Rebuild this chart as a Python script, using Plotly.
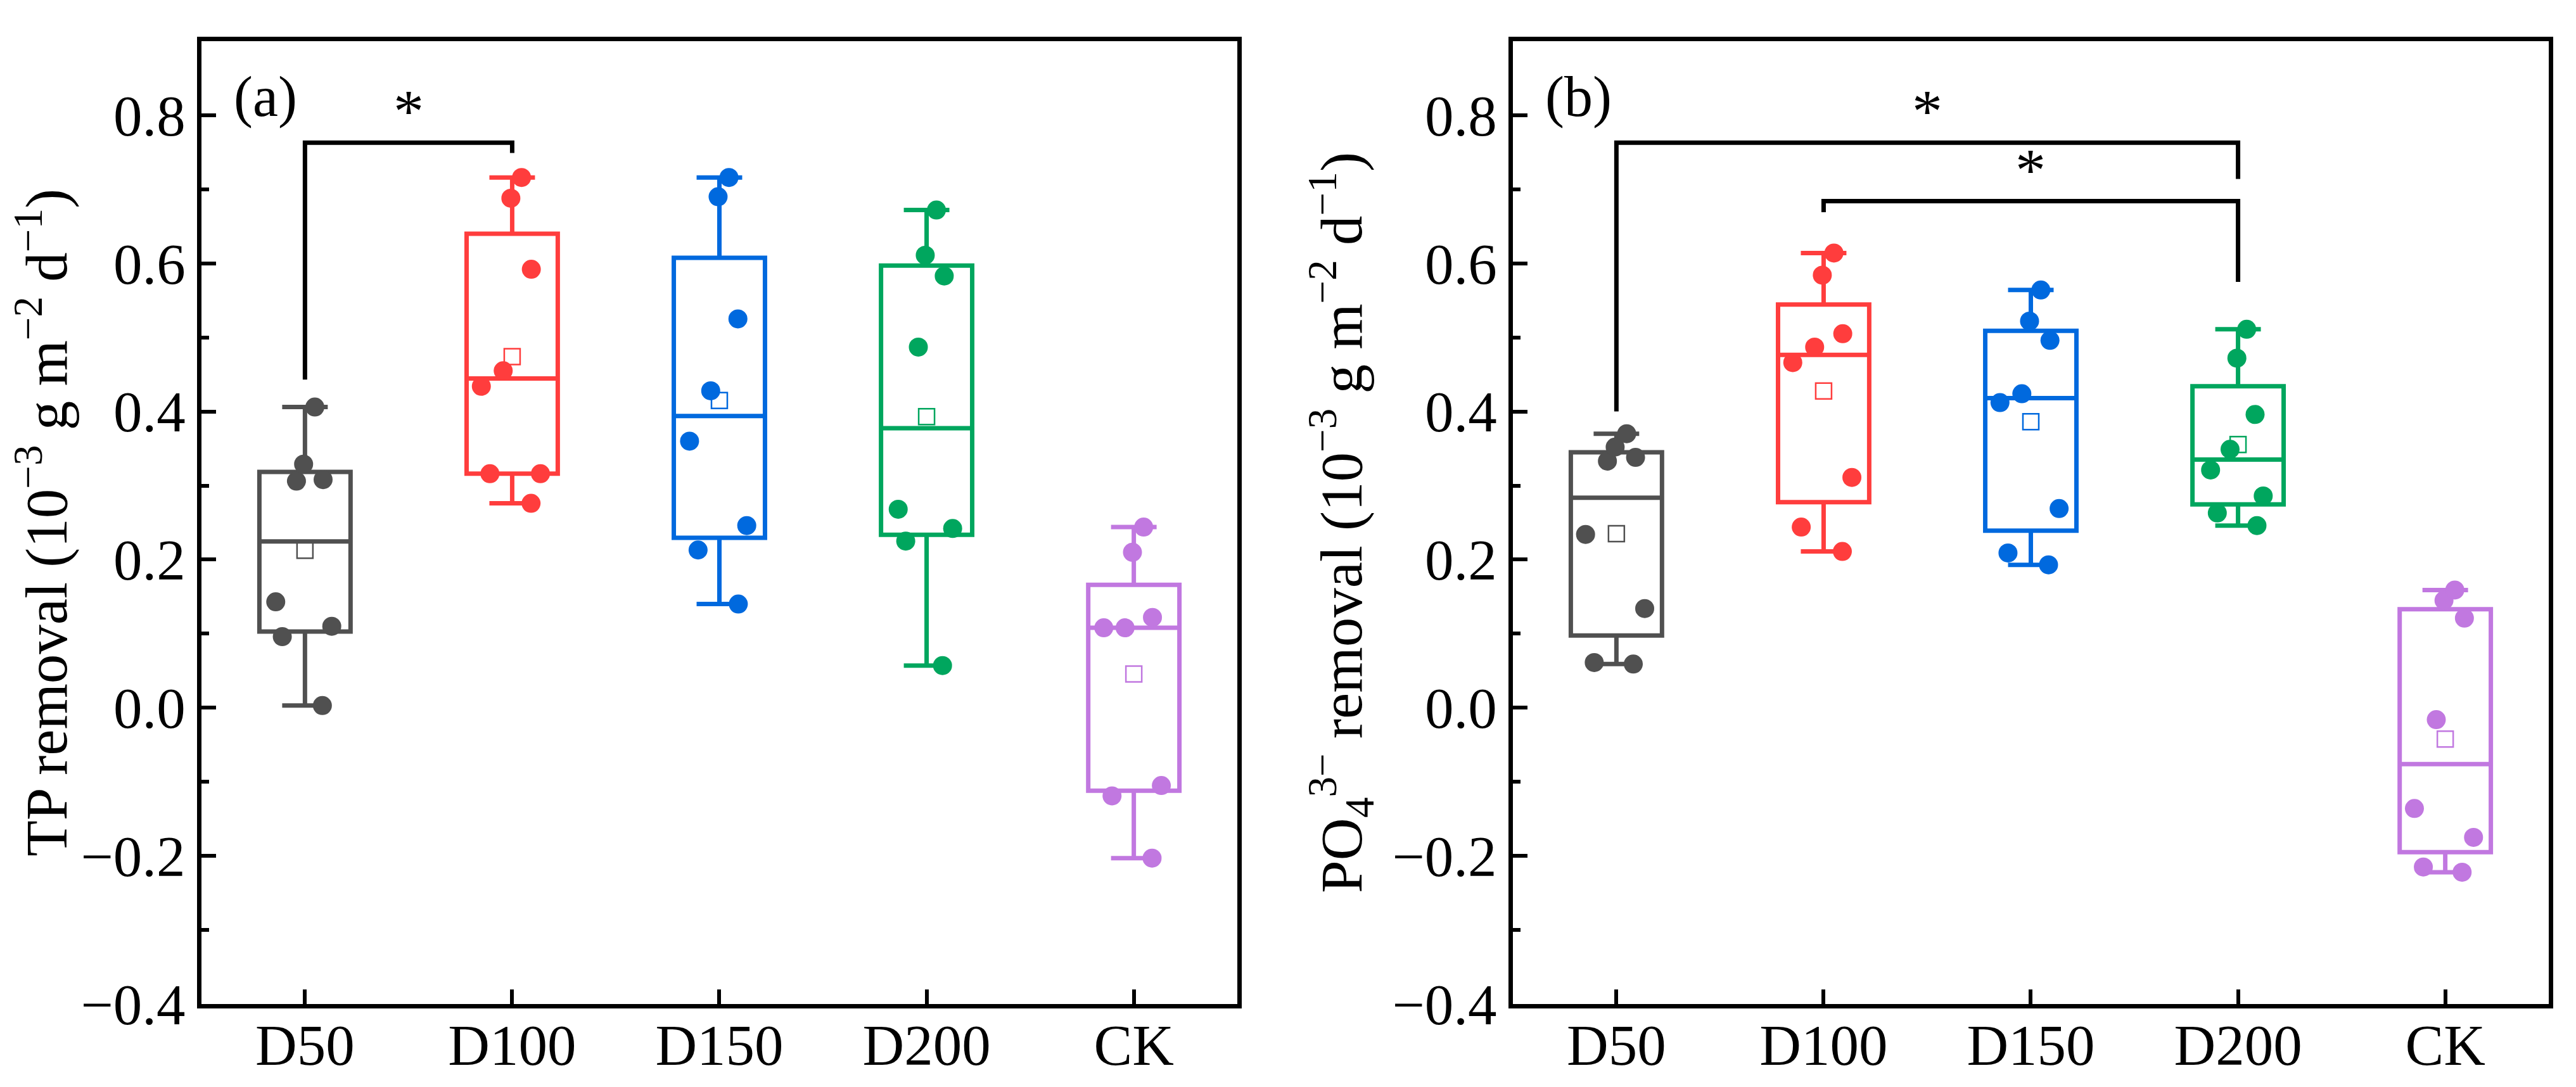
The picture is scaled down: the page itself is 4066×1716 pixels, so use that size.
import numpy as np
import plotly.graph_objects as go

# --- data ---
groups = ["D50", "D100", "D150", "D200", "CK"]
colors = ["#505050", "#FF3D3D", "#0069DE", "#00A65E", "#C178E0"]

# (a) TP removal, 8 replicates per group
tp_d50 = [0.406, 0.329, 0.308, 0.306, 0.143, 0.110, 0.096, 0.003]
tp_d100 = [0.716, 0.688, 0.592, 0.455, 0.434, 0.316, 0.316, 0.276]
tp_d150 = [0.716, 0.690, 0.525, 0.428, 0.360, 0.246, 0.213, 0.140]
tp_d200 = [0.672, 0.611, 0.583, 0.487, 0.268, 0.242, 0.225, 0.057]
tp_ck = [0.244, 0.210, 0.122, 0.108, 0.108, -0.105, -0.119, -0.203]

# (b) PO4 3- removal
po_d50 = [0.370, 0.352, 0.338, 0.333, 0.234, 0.134, 0.061, 0.059]
po_d100 = [0.614, 0.584, 0.505, 0.487, 0.466, 0.311, 0.244, 0.211]
po_d150 = [0.564, 0.522, 0.496, 0.424, 0.412, 0.269, 0.209, 0.193]
po_d200 = [0.511, 0.472, 0.396, 0.349, 0.321, 0.286, 0.263, 0.246]
po_ck = [0.159, 0.145, 0.121, -0.016, -0.136, -0.175, -0.215, -0.222]

tp_data = [tp_d50, tp_d100, tp_d150, tp_d200, tp_ck]
po_data = [po_d50, po_d100, po_d150, po_d200, po_ck]

# significance brackets: (left group, right group, left leg end, bar level, right leg end)
tp_brackets = [("D50", "D100", 0.443, 0.763, 0.749)]
po_brackets = [("D50", "D200", 0.400, 0.763, 0.714),
               ("D100", "D200", 0.669, 0.684, 0.575)]

FONT = "Liberation Serif"
fig = go.Figure()

def add_panel(data, brackets, xa, ya):
    for g, vals, c in zip(groups, data, colors):
        fig.add_trace(go.Box(
            x=[g] * len(vals), y=vals, name=g, xaxis=xa, yaxis=ya,
            boxpoints="all", jitter=0.8, pointpos=0, width=0.44, whiskerwidth=0.5,
            quartilemethod="exclusive", fillcolor="rgba(0,0,0,0)",
            line=dict(color=c, width=7), marker=dict(color=c, size=30, opacity=1),
            showlegend=False, hoverinfo="y",
        ))
        fig.add_trace(go.Scatter(
            x=[g], y=[np.mean(vals)], xaxis=xa, yaxis=ya, mode="markers",
            marker=dict(symbol="square-open", size=25, color=c, line=dict(width=2.5, color=c)),
            showlegend=False, hoverinfo="skip",
        ))
    for g1, g2, y1, ytop, y2 in brackets:
        fig.add_trace(go.Scatter(
            x=[g1, g1, g2, g2], y=[y1, ytop, ytop, y2], xaxis=xa, yaxis=ya,
            mode="lines", line=dict(color="black", width=7), showlegend=False,
            hoverinfo="skip",
        ))
        i1, i2 = groups.index(g1), groups.index(g2)
        fig.add_annotation(
            x=(i1 + i2) / 2, y=ytop, xref=xa, yref=ya, text="*", showarrow=False,
            yanchor="bottom", yshift=-6, font=dict(family=FONT, size=96, color="black"),
        )

add_panel(tp_data, tp_brackets, "x", "y")
add_panel(po_data, po_brackets, "x2", "y2")

xcommon = dict(
    type="category", categoryorder="array", categoryarray=groups, range=[-0.5, 4.5],
    showline=True, mirror=True, linewidth=7, linecolor="black",
    ticks="inside", ticklen=23, tickwidth=6, tickcolor="black",
    tickfont=dict(family=FONT, size=91, color="black"), showgrid=False, zeroline=False,
    ticklabelstandoff=-20,
)
ycommon = dict(
    range=[-0.4, 0.9], tick0=-0.4, dtick=0.2, tickformat=".1f",
    showline=True, mirror=True, linewidth=7, linecolor="black",
    ticks="inside", ticklen=23, tickwidth=6, tickcolor="black",
    minor=dict(ticks="inside", dtick=0.1, ticklen=12, tickwidth=6, tickcolor="black", showgrid=False),
    tickfont=dict(family=FONT, size=91, color="black"), showgrid=False, zeroline=False,
    ticklabelstandoff=0,
)

fig.update_layout(
    width=4066, height=1716, plot_bgcolor="white", paper_bgcolor="white",
    margin=dict(l=0, r=0, t=57, b=139),
    font=dict(family=FONT, color="black"),
    xaxis=dict(domain=[0.0762, 0.4784], anchor="y", **xcommon),
    yaxis=dict(domain=[0, 1], anchor="x",
               title=dict(text="TP removal (10<sup>−3</sup> g m<sup>−2</sup> d<sup>−1</sup>)",
                          font=dict(family=FONT, size=93), standoff=20),
               **ycommon),
    xaxis2=dict(domain=[0.5853, 0.9875], anchor="y2", **xcommon),
    yaxis2=dict(domain=[0, 1], anchor="x2",
                title=dict(text="PO<sub>4</sub><sup>3−</sup> removal (10<sup>−3</sup> g m<sup>−2</sup> d<sup>−1</sup>)",
                           font=dict(family=FONT, size=93), standoff=20),
                **ycommon),
)

for lab, xr, yr in [("(a)", "x domain", "y domain"), ("(b)", "x2 domain", "y2 domain")]:
    fig.add_annotation(x=0.03, y=0.942, xref=xr, yref=yr, text=lab, showarrow=False,
                       xanchor="left", yanchor="middle",
                       font=dict(family=FONT, size=90, color="black"))

fig.write_html("out.html")
